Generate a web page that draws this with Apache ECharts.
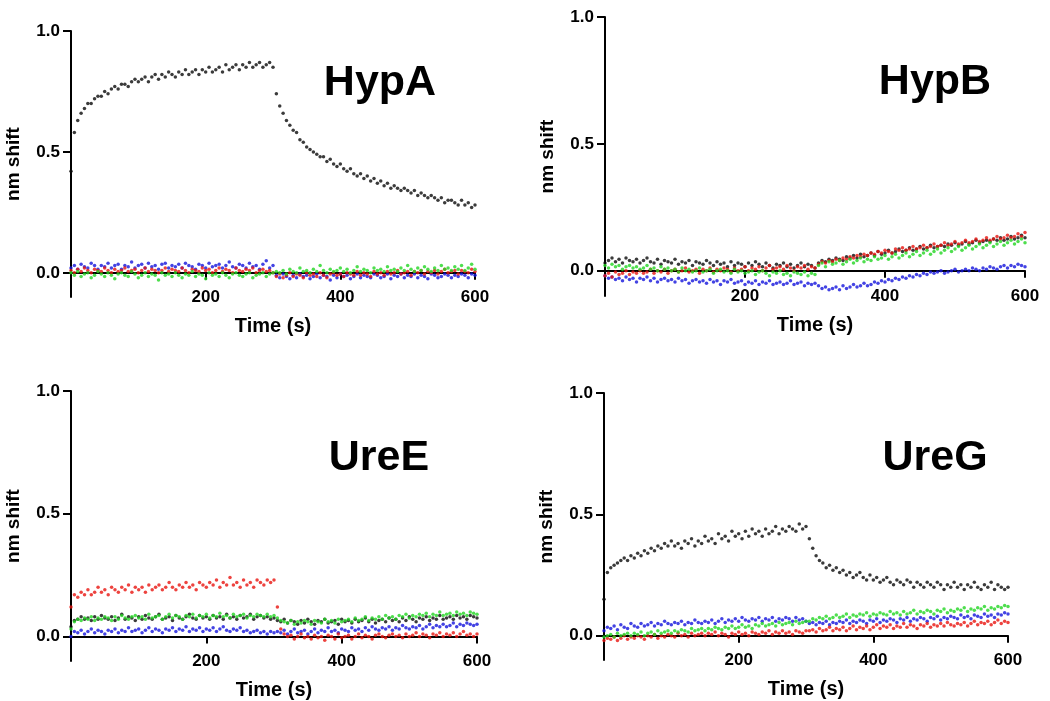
<!DOCTYPE html>
<html>
<head>
<meta charset="utf-8">
<script src="https://cdn.jsdelivr.net/npm/echarts@6/dist/echarts.min.js"></script>
<style>
html,body{margin:0;padding:0;background:#fff;}
#chart{width:1050px;height:701px;}
</style>
</head>
<body>
<div id="chart"></div>
<script>
// ---- Data (time in s, response in nm shift) ----
const PANEL_TITLES = ['HypA', 'HypB', 'UreE', 'UreG'];
const X_TICKS = [200, 400, 600];
const Y_TICKS = [0, 0.5, 1.0];
const TIME = [0,5,10,15,20,25,30,35,40,45,50,55,60,65,70,75,80,85,90,95,100,105,110,115,120,125,130,135,140,145,150,155,160,165,170,175,180,185,190,195,200,205,210,215,220,225,230,235,240,245,250,255,260,265,270,275,280,285,290,295,300,305,310,315,320,325,330,335,340,345,350,355,360,365,370,375,380,385,390,395,400,405,410,415,420,425,430,435,440,445,450,455,460,465,470,475,480,485,490,495,500,505,510,515,520,525,530,535,540,545,550,555,560,565,570,575,580,585,590,595,600];

// HypA
const hypA_black = [0.42,0.58,0.63,0.66,0.68,0.70,0.70,0.72,0.73,0.73,
0.75,0.74,0.76,0.77,0.76,0.78,0.78,0.77,0.79,0.80,
0.79,0.80,0.81,0.79,0.81,0.82,0.80,0.82,0.81,0.83,
0.82,0.81,0.83,0.82,0.84,0.82,0.83,0.84,0.82,0.84,
0.83,0.85,0.83,0.84,0.85,0.83,0.86,0.84,0.85,0.86,
0.84,0.86,0.85,0.87,0.85,0.86,0.87,0.85,0.86,0.87,0.85,
0.74,0.69,0.66,0.63,0.61,0.59,0.58,0.55,0.54,0.52,
0.51,0.50,0.49,0.48,0.48,0.46,0.47,0.45,0.44,0.45,
0.43,0.42,0.43,0.41,0.40,0.41,0.39,0.40,0.38,0.39,
0.37,0.38,0.36,0.37,0.35,0.36,0.35,0.34,0.35,0.34,
0.33,0.34,0.32,0.33,0.32,0.31,0.32,0.31,0.30,0.31,
0.29,0.30,0.30,0.29,0.28,0.30,0.28,0.29,0.27,0.28];
const hypA_blue = [0.02,0.03,0.015,0.035,0.025,0.02,0.04,0.03,0.015,0.03,
0.025,0.04,0.02,0.03,0.035,0.015,0.03,0.025,0.045,0.02,
0.03,0.035,0.02,0.04,0.025,0.03,0.015,0.035,0.04,0.02,
0.03,0.025,0.035,0.02,0.04,0.03,0.025,0.015,0.035,0.03,
0.02,0.04,0.025,0.03,0.035,0.02,0.03,0.045,0.025,0.02,
0.035,0.03,0.02,0.04,0.025,0.03,0.015,0.035,0.05,0.02,0.03,
-0.01,-0.02,-0.005,-0.015,-0.025,-0.01,-0.02,-0.005,-0.015,-0.01,
-0.025,-0.015,-0.005,-0.02,-0.01,-0.015,-0.03,-0.01,-0.02,-0.005,
-0.015,-0.01,-0.025,-0.015,-0.005,-0.02,-0.01,-0.015,-0.02,-0.005,
-0.01,-0.02,-0.015,-0.005,-0.025,-0.01,-0.015,-0.005,-0.02,-0.01,
-0.015,-0.005,-0.02,-0.01,-0.015,-0.025,-0.005,-0.01,-0.02,-0.015,
-0.005,-0.01,-0.02,-0.01,-0.015,-0.005,-0.01,-0.02,-0.005,-0.01];
const hypA_red = [0.01,0.0,0.015,0.005,0.02,0.01,0.0,0.015,0.01,0.005,
0.02,0.01,0.0,0.015,0.005,0.01,0.02,0.005,0.01,0.015,
0.0,0.01,0.02,0.005,0.015,0.01,0.0,0.01,0.02,0.005,
0.015,0.01,0.005,0.02,0.01,0.0,0.015,0.01,0.005,0.02,
0.01,0.015,0.0,0.01,0.02,0.005,0.015,0.01,0.0,0.02,
0.01,0.005,0.015,0.01,0.02,0.0,0.01,0.015,0.005,0.01,0.0,
-0.015,-0.005,-0.02,-0.01,0.0,-0.015,-0.005,-0.01,-0.02,0.0,
-0.01,-0.005,-0.015,0.0,-0.01,-0.02,-0.005,0.0,-0.01,-0.005,
-0.015,0.0,-0.005,-0.01,0.005,-0.01,0.0,-0.005,-0.015,0.005,
-0.005,0.0,-0.01,0.005,-0.005,0.0,0.01,-0.005,0.0,0.005,
-0.01,0.005,0.0,0.01,-0.005,0.005,0.0,0.01,-0.005,0.005,
0.015,0.0,0.005,0.01,-0.005,0.01,0.005,0.0,0.015,0.005];
const hypA_green = [0.0,-0.01,0.005,-0.015,-0.005,0.0,-0.02,-0.01,0.005,-0.005,
-0.015,0.0,-0.01,-0.025,-0.005,0.0,-0.01,-0.015,0.005,-0.005,
-0.02,-0.01,0.0,-0.015,-0.005,-0.01,-0.03,0.0,-0.01,-0.005,
-0.015,0.0,-0.01,-0.02,-0.005,-0.01,0.005,-0.015,-0.005,-0.01,
-0.025,0.0,-0.01,-0.005,-0.015,0.0,-0.01,-0.02,-0.005,0.0,
-0.01,-0.015,-0.005,0.0,-0.02,-0.01,-0.005,0.0,-0.015,-0.005,0.0,
0.005,0.0,0.01,-0.005,0.015,0.005,0.0,0.02,0.005,0.01,
0.0,0.015,0.005,0.03,0.01,0.0,0.015,0.005,0.01,0.02,
0.005,0.015,0.0,0.01,0.025,0.005,0.015,0.01,0.0,0.02,
0.01,0.015,0.005,0.025,0.01,0.015,0.005,0.02,0.01,0.03,
0.015,0.005,0.02,0.01,0.025,0.015,0.005,0.02,0.01,0.03,
0.015,0.02,0.01,0.025,0.015,0.03,0.01,0.02,0.035,0.015];

// HypB
const hypB_black = [0.03,0.04,0.05,0.035,0.045,0.03,0.05,0.04,0.035,0.045,
0.03,0.04,0.05,0.035,0.03,0.045,0.025,0.04,0.035,0.03,
0.045,0.025,0.035,0.03,0.04,0.02,0.035,0.03,0.025,0.04,
0.03,0.02,0.035,0.025,0.03,0.015,0.035,0.02,0.03,0.025,
0.015,0.03,0.02,0.035,0.025,0.015,0.03,0.02,0.01,0.025,
0.02,0.03,0.015,0.025,0.01,0.02,0.03,0.015,0.025,0.02,0.01,
0.03,0.04,0.035,0.045,0.04,0.05,0.045,0.04,0.055,0.05,
0.06,0.05,0.065,0.055,0.06,0.07,0.06,0.075,0.065,0.07,
0.08,0.07,0.075,0.085,0.075,0.08,0.09,0.08,0.085,0.095,
0.085,0.09,0.1,0.09,0.095,0.1,0.095,0.105,0.1,0.11,
0.1,0.105,0.115,0.105,0.11,0.12,0.11,0.115,0.12,0.115,
0.125,0.12,0.13,0.12,0.125,0.135,0.125,0.13,0.14,0.13];
const hypB_blue = [-0.02,-0.03,-0.025,-0.035,-0.03,-0.04,-0.025,-0.035,-0.03,-0.045,
-0.03,-0.035,-0.025,-0.04,-0.03,-0.045,-0.035,-0.03,-0.04,-0.035,
-0.045,-0.03,-0.04,-0.035,-0.05,-0.04,-0.035,-0.045,-0.04,-0.05,
-0.035,-0.045,-0.04,-0.055,-0.04,-0.045,-0.035,-0.05,-0.045,-0.04,
-0.055,-0.045,-0.05,-0.04,-0.055,-0.045,-0.05,-0.04,-0.055,-0.05,
-0.045,-0.055,-0.05,-0.04,-0.055,-0.05,-0.045,-0.06,-0.05,-0.055,-0.05,
-0.06,-0.07,-0.065,-0.075,-0.07,-0.065,-0.075,-0.06,-0.07,-0.065,
-0.055,-0.065,-0.06,-0.05,-0.06,-0.055,-0.045,-0.05,-0.04,-0.045,
-0.035,-0.04,-0.03,-0.035,-0.025,-0.03,-0.02,-0.025,-0.015,-0.02,
-0.01,-0.015,-0.005,-0.01,-0.005,0.0,-0.01,-0.005,0.0,0.005,
-0.005,0.0,0.005,0.0,0.01,0.005,0.0,0.01,0.005,0.015,
0.01,0.005,0.015,0.02,0.01,0.02,0.015,0.025,0.02,0.015];
const hypB_red = [-0.02,-0.01,-0.025,-0.005,-0.015,-0.01,0.0,-0.015,-0.005,-0.01,
0.0,-0.01,-0.005,0.005,-0.01,0.0,-0.005,0.005,-0.01,0.0,
0.005,-0.005,0.0,0.01,-0.005,0.0,0.005,-0.01,0.005,0.0,
0.01,-0.005,0.005,0.0,0.01,0.005,-0.005,0.01,0.0,0.005,
0.015,0.0,0.01,0.005,0.015,0.0,0.01,0.02,0.005,0.01,
0.015,0.005,0.02,0.01,0.0,0.015,0.01,0.02,0.005,0.015,0.01,
0.025,0.035,0.03,0.04,0.035,0.045,0.04,0.05,0.045,0.055,
0.05,0.06,0.055,0.065,0.06,0.07,0.065,0.075,0.07,0.08,
0.075,0.07,0.085,0.08,0.09,0.08,0.085,0.095,0.085,0.09,
0.1,0.09,0.095,0.105,0.095,0.1,0.11,0.1,0.105,0.115,
0.105,0.11,0.12,0.11,0.115,0.125,0.115,0.12,0.13,0.12,
0.125,0.135,0.125,0.13,0.14,0.13,0.135,0.145,0.135,0.15];
const hypB_green = [0.02,0.01,0.025,0.015,0.02,0.005,0.015,0.02,0.01,0.015,
0.005,0.01,0.02,0.005,0.01,0.0,0.015,0.005,0.01,0.0,
0.005,-0.005,0.01,0.0,0.005,-0.005,0.0,0.01,-0.005,0.0,
0.005,-0.01,0.0,0.005,-0.005,0.0,-0.01,0.005,-0.005,0.0,
-0.01,-0.005,0.0,-0.015,-0.005,0.0,-0.01,-0.02,-0.005,-0.01,
0.0,-0.015,-0.01,-0.02,-0.005,-0.01,-0.015,-0.005,-0.02,-0.01,-0.015,
0.02,0.03,0.015,0.035,0.025,0.03,0.04,0.025,0.035,0.045,
0.03,0.04,0.05,0.035,0.045,0.04,0.055,0.045,0.05,0.06,
0.045,0.055,0.065,0.05,0.06,0.07,0.055,0.065,0.075,0.06,
0.07,0.08,0.065,0.075,0.085,0.07,0.08,0.09,0.075,0.085,
0.095,0.08,0.09,0.1,0.085,0.095,0.105,0.09,0.1,0.11,
0.095,0.105,0.115,0.1,0.11,0.12,0.105,0.115,0.125,0.11];

// UreE
const ureE_black = [0.04,0.065,0.07,0.08,0.07,0.075,0.065,0.08,0.07,0.085,
0.075,0.07,0.08,0.065,0.075,0.09,0.07,0.08,0.075,0.065,
0.08,0.07,0.085,0.075,0.07,0.08,0.09,0.07,0.075,0.08,
0.065,0.085,0.075,0.07,0.08,0.09,0.075,0.07,0.085,0.075,
0.08,0.07,0.085,0.075,0.08,0.07,0.09,0.075,0.08,0.07,
0.085,0.075,0.08,0.09,0.07,0.08,0.085,0.075,0.08,0.07,0.075,
0.065,0.06,0.07,0.055,0.065,0.06,0.05,0.065,0.055,0.07,
0.06,0.05,0.065,0.06,0.07,0.055,0.06,0.065,0.05,0.07,
0.06,0.065,0.055,0.07,0.06,0.065,0.075,0.06,0.07,0.055,
0.065,0.07,0.06,0.075,0.065,0.07,0.06,0.075,0.065,0.08,
0.07,0.06,0.075,0.07,0.08,0.065,0.075,0.07,0.085,0.07,
0.075,0.08,0.07,0.085,0.075,0.08,0.07,0.085,0.08,0.075];
const ureE_blue = [0.0,0.02,0.015,0.025,0.01,0.02,0.03,0.015,0.025,0.02,
0.01,0.025,0.02,0.03,0.015,0.025,0.02,0.035,0.02,0.025,
0.03,0.015,0.025,0.035,0.02,0.03,0.025,0.015,0.03,0.025,
0.035,0.02,0.03,0.025,0.04,0.02,0.03,0.025,0.035,0.02,
0.03,0.025,0.035,0.02,0.03,0.04,0.025,0.02,0.03,0.025,
0.035,0.02,0.025,0.015,0.02,0.025,0.015,0.02,0.01,0.02,0.015,
0.02,0.015,0.025,0.01,0.02,0.03,0.015,0.02,0.025,0.01,
0.02,0.03,0.015,0.025,0.02,0.035,0.02,0.025,0.015,0.03,
0.025,0.02,0.035,0.025,0.03,0.02,0.035,0.025,0.04,0.03,
0.025,0.035,0.03,0.04,0.025,0.035,0.03,0.045,0.035,0.03,
0.04,0.035,0.045,0.03,0.04,0.05,0.035,0.045,0.04,0.05,
0.04,0.045,0.055,0.04,0.05,0.045,0.055,0.05,0.045,0.05];
const ureE_red = [0.12,0.17,0.16,0.18,0.17,0.19,0.17,0.18,0.2,0.18,
0.19,0.17,0.2,0.19,0.18,0.2,0.19,0.21,0.18,0.2,
0.19,0.2,0.18,0.21,0.19,0.2,0.21,0.19,0.2,0.22,
0.2,0.19,0.21,0.2,0.22,0.2,0.21,0.19,0.22,0.21,
0.2,0.22,0.21,0.23,0.2,0.22,0.21,0.24,0.21,0.22,
0.2,0.23,0.21,0.22,0.2,0.23,0.22,0.21,0.23,0.22,0.23,
0.12,0.03,0.01,0.0,0.005,-0.01,0.0,0.01,-0.005,0.0,
-0.01,0.005,-0.005,0.0,-0.015,0.005,0.0,-0.01,0.01,-0.005,
0.0,0.005,-0.01,0.0,0.01,-0.005,0.005,0.0,-0.01,0.005,
0.01,0.0,-0.005,0.005,0.01,0.0,0.005,-0.005,0.01,0.0,
0.005,0.015,0.0,0.01,0.005,-0.005,0.01,0.005,0.015,0.0,
0.01,0.005,0.015,0.0,0.01,0.02,0.005,0.01,0.0,0.01];
const ureE_green = [0.03,0.06,0.07,0.065,0.075,0.07,0.08,0.065,0.075,0.07,
0.08,0.075,0.065,0.08,0.07,0.085,0.075,0.07,0.08,0.085,
0.075,0.08,0.07,0.09,0.075,0.08,0.085,0.07,0.08,0.09,
0.075,0.085,0.08,0.07,0.085,0.08,0.09,0.075,0.085,0.08,
0.09,0.075,0.085,0.08,0.095,0.08,0.085,0.075,0.09,0.08,
0.085,0.09,0.075,0.085,0.08,0.09,0.085,0.08,0.09,0.08,0.085,
0.075,0.065,0.06,0.055,0.065,0.05,0.06,0.055,0.065,0.06,
0.05,0.065,0.06,0.055,0.07,0.06,0.065,0.055,0.07,0.06,
0.065,0.07,0.06,0.075,0.065,0.07,0.08,0.065,0.075,0.07,
0.08,0.07,0.085,0.075,0.08,0.07,0.085,0.08,0.09,0.075,
0.085,0.08,0.09,0.085,0.095,0.08,0.09,0.085,0.1,0.085,
0.09,0.095,0.085,0.1,0.09,0.095,0.085,0.1,0.095,0.09];

// UreG
const ureG_black = [0.15,0.26,0.28,0.29,0.3,0.31,0.32,0.31,0.33,0.32,
0.34,0.33,0.35,0.34,0.36,0.35,0.37,0.36,0.38,0.37,
0.39,0.37,0.38,0.36,0.39,0.38,0.4,0.37,0.39,0.38,
0.41,0.39,0.4,0.38,0.42,0.4,0.41,0.39,0.43,0.41,
0.42,0.4,0.43,0.41,0.44,0.42,0.43,0.41,0.44,0.42,
0.43,0.45,0.42,0.44,0.43,0.45,0.44,0.43,0.46,0.44,0.45,
0.4,0.36,0.33,0.31,0.3,0.28,0.29,0.27,0.28,0.26,
0.27,0.25,0.26,0.24,0.25,0.26,0.24,0.23,0.25,0.23,
0.24,0.22,0.23,0.24,0.22,0.21,0.23,0.22,0.21,0.23,
0.22,0.2,0.22,0.21,0.2,0.22,0.21,0.2,0.22,0.21,
0.19,0.21,0.2,0.22,0.2,0.21,0.19,0.21,0.2,0.22,
0.2,0.19,0.21,0.2,0.22,0.19,0.21,0.2,0.19,0.2];
const ureG_blue = [0.02,0.035,0.03,0.04,0.025,0.045,0.035,0.03,0.05,0.04,
0.035,0.05,0.04,0.045,0.055,0.04,0.05,0.045,0.06,0.05,
0.045,0.055,0.05,0.06,0.045,0.055,0.05,0.065,0.055,0.05,
0.06,0.055,0.065,0.05,0.06,0.07,0.055,0.065,0.06,0.07,
0.06,0.075,0.065,0.06,0.07,0.065,0.075,0.06,0.07,0.065,
0.075,0.06,0.07,0.065,0.075,0.07,0.06,0.075,0.065,0.07,0.06,
0.05,0.055,0.045,0.055,0.05,0.06,0.045,0.055,0.05,0.06,
0.055,0.065,0.05,0.06,0.055,0.065,0.06,0.05,0.065,0.06,
0.07,0.055,0.065,0.06,0.07,0.065,0.055,0.07,0.065,0.075,
0.06,0.07,0.065,0.075,0.07,0.06,0.075,0.07,0.08,0.065,
0.075,0.07,0.08,0.075,0.07,0.085,0.075,0.08,0.07,0.085,
0.08,0.075,0.09,0.08,0.085,0.075,0.09,0.085,0.095,0.09];
const ureG_red = [-0.02,-0.01,-0.015,-0.005,-0.02,-0.01,0.0,-0.015,-0.005,-0.01,
0.0,-0.005,-0.015,0.0,-0.005,0.005,-0.01,0.0,-0.005,0.005,
0.0,-0.005,0.01,0.0,0.005,-0.005,0.01,0.0,0.005,0.01,
0.0,0.01,0.005,0.015,0.0,0.01,0.005,-0.005,0.01,0.005,
0.015,0.005,0.01,0.0,0.015,0.01,0.005,0.015,0.01,0.02,
0.005,0.015,0.01,0.02,0.01,0.015,0.005,0.02,0.015,0.01,0.02,
0.02,0.025,0.015,0.03,0.02,0.025,0.035,0.02,0.03,0.025,
0.035,0.02,0.03,0.04,0.025,0.035,0.03,0.04,0.025,0.035,
0.045,0.03,0.04,0.035,0.045,0.03,0.04,0.035,0.05,0.035,
0.045,0.04,0.03,0.045,0.04,0.05,0.035,0.045,0.04,0.05,
0.04,0.055,0.045,0.04,0.05,0.045,0.055,0.04,0.05,0.06,
0.045,0.055,0.05,0.06,0.045,0.055,0.065,0.05,0.06,0.055];
const ureG_green = [-0.005,0.0,0.005,-0.005,0.01,0.0,0.005,0.01,0.0,0.01,
0.005,0.015,0.0,0.01,0.015,0.005,0.02,0.01,0.015,0.02,
0.01,0.02,0.015,0.025,0.02,0.015,0.03,0.02,0.025,0.03,
0.02,0.03,0.025,0.035,0.03,0.025,0.035,0.03,0.04,0.03,
0.035,0.045,0.035,0.04,0.03,0.045,0.04,0.05,0.04,0.045,
0.05,0.04,0.055,0.045,0.05,0.055,0.045,0.06,0.05,0.055,0.06,
0.06,0.07,0.065,0.075,0.07,0.08,0.07,0.075,0.085,0.075,
0.08,0.09,0.075,0.085,0.08,0.09,0.085,0.095,0.08,0.09,
0.085,0.095,0.09,0.085,0.1,0.09,0.095,0.085,0.1,0.09,
0.095,0.105,0.09,0.1,0.095,0.105,0.1,0.09,0.105,0.1,
0.11,0.095,0.105,0.1,0.11,0.105,0.115,0.1,0.11,0.105,
0.115,0.11,0.12,0.105,0.115,0.11,0.12,0.115,0.125,0.12];

const PANEL_DATA = [
  {black: hypA_black, blue: hypA_blue, red: hypA_red, green: hypA_green},
  {black: hypB_black, blue: hypB_blue, red: hypB_red, green: hypB_green},
  {black: ureE_black, blue: ureE_blue, red: ureE_red, green: ureE_green},
  {black: ureG_black, blue: ureG_blue, red: ureG_red, green: ureG_green}
];

// ---- Styling / layout ----
const COLORS = {black: '#0a0a0a', blue: '#1414dc', red: '#e8140f', green: '#22d622'};
const DRAW_ORDER = ['black', 'blue', 'red', 'green'];
const FONT = '"Liberation Sans", Arial, Helvetica, sans-serif';
const GRIDS = [
  {left: 71, top: 31, width: 404, height: 266},
  {left: 605, top: 17, width: 420, height: 279},
  {left: 71, top: 391, width: 406, height: 270},
  {left: 604, top: 393, width: 404, height: 267}
];
const TITLE_POS = [[380, 83], [935, 82], [379, 458], [935, 458]];

const grid = [], xAxis = [], yAxis = [], series = [], graphic = [];
GRIDS.forEach((g, p) => {
  grid.push(Object.assign({containLabel: false}, g));
  xAxis.push({
    type: 'value', gridIndex: p, min: 0, max: 600,
    name: 'Time (s)', nameLocation: 'middle', nameGap: 19,
    nameTextStyle: {fontFamily: FONT, fontWeight: 'bold', fontSize: 20, color: '#000'},
    axisLine: {show: true, onZero: true, lineStyle: {color: '#000', width: 2}},
    axisTick: {show: true, length: 7, customValues: X_TICKS, lineStyle: {color: '#000', width: 2}},
    axisLabel: {customValues: X_TICKS, margin: -8, fontFamily: FONT, fontWeight: 'bold', fontSize: 17, color: '#000'},
    splitLine: {show: false}
  });
  yAxis.push({
    type: 'value', gridIndex: p, min: -0.1, max: 1.0,
    name: 'nm shift', nameLocation: 'middle', nameGap: 48,
    nameTextStyle: {fontFamily: FONT, fontWeight: 'bold', fontSize: 19, color: '#000'},
    axisLine: {show: true, onZero: false, lineStyle: {color: '#000', width: 2}},
    axisTick: {show: true, length: 8, customValues: Y_TICKS, lineStyle: {color: '#000', width: 2}},
    axisLabel: {customValues: Y_TICKS, margin: 11, formatter: v => v.toFixed(1),
      fontFamily: FONT, fontWeight: 'bold', fontSize: 17, color: '#000'},
    splitLine: {show: false}
  });
  DRAW_ORDER.forEach(c => {
    series.push({
      type: 'scatter', xAxisIndex: p, yAxisIndex: p,
      symbol: 'circle', symbolSize: 3.5,
      itemStyle: {color: COLORS[c]},
      data: PANEL_DATA[p][c].map((v, i) => [TIME[i], v])
    });
  });
  graphic.push({
    type: 'text', x: TITLE_POS[p][0], y: TITLE_POS[p][1],
    style: {text: PANEL_TITLES[p], fontFamily: FONT, fontWeight: 'bold', fontSize: 43,
      fill: '#000', textAlign: 'center', textVerticalAlign: 'middle'}
  });
});

const chart = echarts.init(document.getElementById('chart'), null, {renderer: 'canvas'});
chart.setOption({
  backgroundColor: '#fff',
  animation: false,
  grid, xAxis, yAxis, series, graphic
});
</script>
</body>
</html>
